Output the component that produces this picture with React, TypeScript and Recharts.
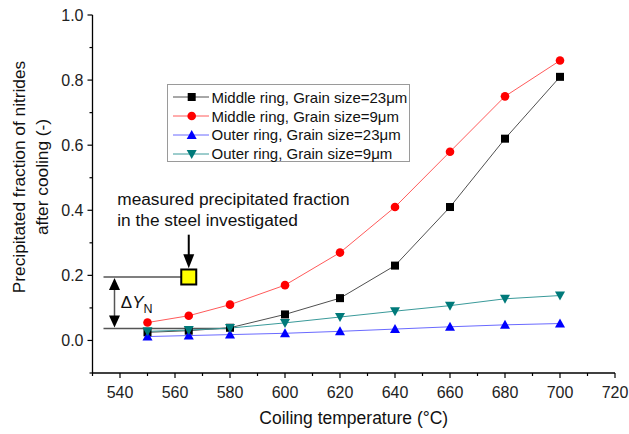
import { LineChart, Line, XAxis, YAxis, ReferenceLine, ReferenceDot } from 'recharts';

const temps = [550, 565, 580, 600, 620, 640, 660, 680, 700];
const middle23 = [0.025, 0.03, 0.039, 0.08, 0.13, 0.23, 0.41, 0.62, 0.81];
const middle9 = [0.055, 0.076, 0.11, 0.17, 0.27, 0.41, 0.58, 0.75, 0.86];
const outer23 = [0.012, 0.015, 0.018, 0.022, 0.028, 0.035, 0.042, 0.048, 0.052];
const outer9 = [0.028, 0.032, 0.038, 0.054, 0.072, 0.09, 0.107, 0.128, 0.138];

const xTicks = [530, 540, 550, 560, 570, 580, 590, 600, 610, 620, 630, 640, 650, 660, 670, 680, 690, 700, 710, 720];
const yTicks = [-0.1, 0, 0.1, 0.2, 0.3, 0.4, 0.5, 0.6, 0.7, 0.8, 0.9, 1.0];

// measured point and the calculated baseline it is compared to
const measuredT = 565;
const measuredY = 0.195;
const baselineY = 0.037;
const bracketT = 538;
const lineStartT = 534;
const baselineEndT = 580;

const FONT = '"Liberation Sans", Arial, sans-serif';

const data = temps.map((t, i) => ({
  t,
  m23: middle23[i],
  m9: middle9[i],
  o23: outer23[i],
  o9: outer9[i],
}));

const SERIES = [
  { key: 'm23', name: 'Middle ring, Grain size=23\u03bcm', line: '#505050', fill: '#000000', shape: 'square' },
  { key: 'm9', name: 'Middle ring, Grain size=9\u03bcm', line: '#ff5a5a', fill: '#ff0000', shape: 'circle' },
  { key: 'o23', name: 'Outer ring, Grain size=23\u03bcm', line: '#6a6aff', fill: '#0000ff', shape: 'up' },
  { key: 'o9', name: 'Outer ring, Grain size=9\u03bcm', line: '#3a9a9a', fill: '#007a7a', shape: 'down' },
];

function Marker({ cx, cy, shape, fill }: { cx: number; cy: number; shape: string; fill: string }) {
  if (shape === 'square') return <rect x={cx - 4} y={cy - 4} width={8} height={8} fill={fill} />;
  if (shape === 'circle') return <circle cx={cx} cy={cy} r={4.3} fill={fill} />;
  if (shape === 'up') return <path d={`M${cx},${cy - 5} L${cx + 5},${cy + 4} L${cx - 5},${cy + 4} Z`} fill={fill} />;
  return <path d={`M${cx},${cy + 5} L${cx + 5},${cy - 4} L${cx - 5},${cy - 4} Z`} fill={fill} />;
}

const XTick = ({ x, y, payload }: any) => {
  const v = Math.round(payload.value);
  const major = v % 20 === 0;
  return (
    <g>
      <line x1={x} x2={x} y1={y} y2={y + (major ? 5 : 3)} stroke="#000" strokeWidth={1.2} />
      {major && (
        <text x={x} y={y + 19} textAnchor="middle" dominantBaseline="central" fontSize={16} fontFamily={FONT} fill="#222">
          {v}
        </text>
      )}
    </g>
  );
};

const YTick = ({ x, y, payload }: any) => {
  const v = Math.round(payload.value * 10);
  const major = v >= 0 && v % 2 === 0;
  return (
    <g>
      <line x1={x} x2={x - (major ? 5 : 3)} y1={y} y2={y} stroke="#000" strokeWidth={1.2} />
      {major && (
        <text x={x - 9} y={y} textAnchor="end" dominantBaseline="central" fontSize={16} fontFamily={FONT} fill="#222">
          {(v / 10).toFixed(1)}
        </text>
      )}
    </g>
  );
};

const DoubleArrow = ({ x1, y1, y2 }: any) => {
  const top = Math.min(y1, y2);
  const bottom = Math.max(y1, y2);
  return (
    <g>
      <line x1={x1} x2={x1} y1={top + 10} y2={bottom - 10} stroke="#555" strokeWidth={1.5} />
      <path d={`M${x1},${top + 1} L${x1 + 5.5},${top + 13} L${x1 - 5.5},${top + 13} Z`} fill="#000" />
      <path d={`M${x1},${bottom - 1} L${x1 + 5.5},${bottom - 13} L${x1 - 5.5},${bottom - 13} Z`} fill="#000" />
    </g>
  );
};

const DownArrow = ({ x1, y1, y2 }: any) => {
  const top = Math.min(y1, y2);
  const bottom = Math.max(y1, y2);
  return (
    <g>
      <line x1={x1} x2={x1} y1={top} y2={bottom - 12} stroke="#000" strokeWidth={2} />
      <path d={`M${x1},${bottom} L${x1 + 5.5},${bottom - 14} L${x1 - 5.5},${bottom - 14} Z`} fill="#000" />
    </g>
  );
};

const Note = ({ cx, cy }: any) => (
  <text x={cx} y={cy} fontSize={17.3} fontFamily={FONT} fill="#111">
    <tspan x={cx} dy={0}>measured precipitated fraction</tspan>
    <tspan x={cx} dy={20.8}>in the steel investigated</tspan>
  </text>
);

const DeltaLabel = ({ cx, cy }: any) => (
  <text x={cx} y={cy} fontSize={17} fontFamily={FONT} fill="#111" dominantBaseline="central">
    <tspan>{'\u0394'}</tspan>
    <tspan fontStyle="italic">Y</tspan>
    <tspan dy={7} fontSize={12.5}>N</tspan>
  </text>
);

const YLabel = () => (
  <text fontSize={17.3} fontFamily={FONT} fill="#111" textAnchor="middle" transform="translate(19,177) rotate(-90)">
    <tspan x={0} y={6}>Precipitated fraction of nitrides</tspan>
    <tspan x={0} y={29}>after cooling (-)</tspan>
  </text>
);

const XLabel = ({ viewBox }: any) => (
  <text x={viewBox.x + viewBox.width / 2} y={418} textAnchor="middle" dominantBaseline="central" fontSize={17.5} fontFamily={FONT} fill="#111">
    Coiling temperature (°C)
  </text>
);

function LegendBox() {
  return (
    <div
      style={{
        position: 'absolute',
        left: 167,
        top: 84,
        width: 243,
        height: 78,
        border: '1px solid #9a9a9a',
        background: '#fff',
        boxSizing: 'border-box',
        paddingTop: 3,
        fontFamily: FONT,
        fontSize: 15,
        color: '#111',
      }}
    >
      {SERIES.map((s) => (
        <div key={s.key} style={{ display: 'flex', alignItems: 'center', height: 18.8 }}>
          <svg width={43.5} height={18} style={{ flex: 'none' }}>
            <line x1={5} x2={41} y1={9} y2={9} stroke={s.line} strokeWidth={1} />
            <Marker cx={23.7} cy={9} shape={s.shape} fill={s.fill} />
          </svg>
          <span style={{ whiteSpace: 'nowrap' }}>{s.name}</span>
        </div>
      ))}
    </div>
  );
}

export default function App() {
  return (
    <div style={{ position: 'absolute', left: 0, top: 0, width: 629, height: 434, background: '#fff' }}>
      <LineChart width={629} height={434} data={data} margin={{ top: 15, right: 14, bottom: 0, left: 32.5 }}>
        <XAxis
          type="number"
          dataKey="t"
          domain={[530, 720]}
          ticks={xTicks}
          interval={0}
          tickLine={false}
          tickSize={0}
          tickMargin={0}
          tick={<XTick />}
          height={61}
          stroke="#000"
          strokeWidth={1.3}
          allowDataOverflow
          label={<XLabel />}
        />
        <YAxis
          type="number"
          domain={[-0.1, 1.0]}
          ticks={yTicks}
          interval={0}
          tickLine={false}
          tickSize={0}
          tickMargin={0}
          tick={<YTick />}
          width={60}
          stroke="#000"
          strokeWidth={1.3}
          allowDataOverflow
          label={<YLabel />}
        />
        <ReferenceLine
          segment={[{ x: lineStartT, y: measuredY }, { x: measuredT, y: measuredY }]}
          stroke="#555"
          strokeWidth={1.5}
          ifOverflow="visible"
        />
        <ReferenceLine
          segment={[{ x: lineStartT, y: baselineY }, { x: baselineEndT, y: baselineY }]}
          stroke="#555"
          strokeWidth={1.5}
          ifOverflow="visible"
        />
        <ReferenceLine
          segment={[{ x: bracketT, y: baselineY }, { x: bracketT, y: measuredY }]}
          shape={<DoubleArrow />}
          ifOverflow="visible"
        />
        <ReferenceLine
          segment={[{ x: measuredT, y: 0.325 }, { x: measuredT, y: 0.222 }]}
          shape={<DownArrow />}
          ifOverflow="visible"
        />
        {SERIES.map((s) => (
          <Line
            key={s.key}
            dataKey={s.key}
            name={s.name}
            stroke={s.line}
            strokeWidth={1}
            isAnimationActive={false}
            dot={(p: any) => <Marker key={`${s.key}-${p.index}`} cx={p.cx} cy={p.cy} shape={s.shape} fill={s.fill} />}
            activeDot={false}
          />
        ))}
        <ReferenceDot
          x={measuredT}
          y={measuredY}
          ifOverflow="visible"
          shape={(p: any) => <rect x={p.cx - 7.5} y={p.cy - 7.5} width={15} height={15} fill="#ffff00" stroke="#000" strokeWidth={2} />}
        />
        <ReferenceDot x={539} y={0.415} ifOverflow="visible" shape={<Note />} />
        <ReferenceDot x={540.3} y={0.118} ifOverflow="visible" shape={<DeltaLabel />} />
      </LineChart>
      <LegendBox />
    </div>
  );
}
